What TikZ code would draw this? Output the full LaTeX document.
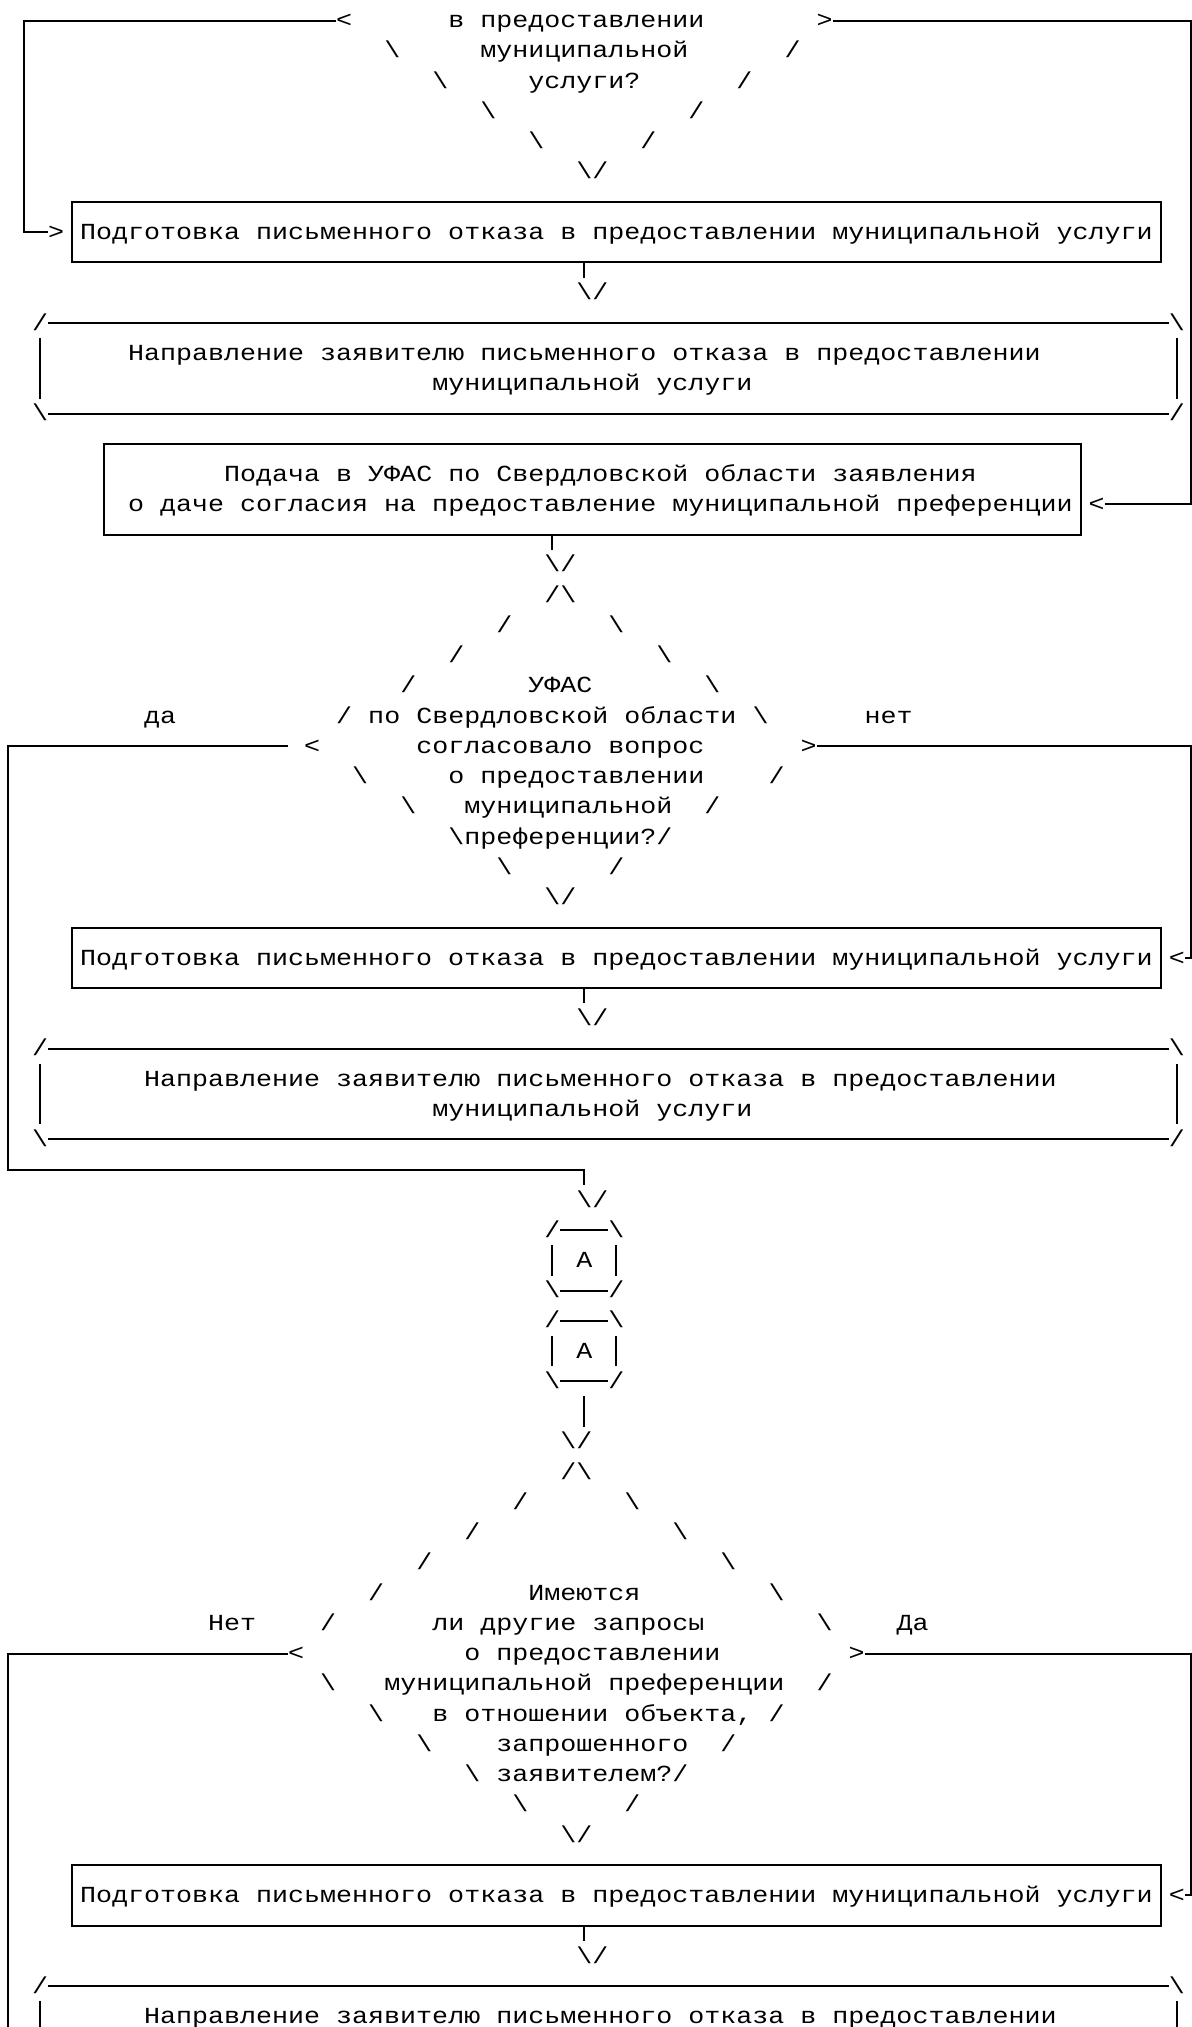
\documentclass[tikz,border=0pt]{standalone}
\usepackage{fontspec}
\newfontfamily\mono[FakeStretch=1.16]{Liberation Mono}
\newcommand\bs{\textbackslash}
\tikzset{
  txt/.style={anchor=base west, inner sep=0pt, outer sep=0pt, font=\mono\fontsize{11.5pt}{13pt}\selectfont},
  ln/.style={line width=1pt, line cap=butt, line join=miter},
}
% row, column, text
\newcommand\T[3]{\node[txt] (t#1x#2) at ({#2-0.5},{#1+0.235}) {#3};}
\begin{document}
\begin{tikzpicture}[x=8.005pt,y=-15.12pt,shift={(0.5,0.678)}]
\useasboundingbox (-0.5,-0.678) rectangle (73.95,66.35);
\fill[white] (-0.5,-0.678) rectangle (73.95,66.35);

% ---------- first decision (tail) ----------
\T{0}{21}{<}\T{0}{28}{в предоставлении}\T{0}{51}{>}
\T{1}{24}{\bs}\T{1}{30}{муниципальной}\T{1}{49}{/}
\T{2}{27}{\bs}\T{2}{33}{услуги?}\T{2}{46}{/}
\T{3}{30}{\bs}\T{3}{43}{/}
\T{4}{33}{\bs}\T{4}{40}{/}
\T{5}{36}{\bs/}
\coordinate (d1l) at (20.5,0);
\coordinate (d1r) at (51.5,0);
\draw[ln] (d1l) -- (1,0) -- (1,7) -- (2.5,7);
\draw[ln] (d1r) -- (73.88,0) -- (73.88,16) -- (68.5,16);

% box 1
\draw[ln] (4,6) rectangle (72,8);
\draw[ln] (36,8) -- (36,8.5);
\T{7}{3}{>}\T{7}{5}{Подготовка письменного отказа в предоставлении муниципальной услуги}
\T{9}{36}{\bs/}

% rounded box 1
\draw[ln] (2.5,10) -- (72.5,10);
\draw[ln] (2.5,13) -- (72.5,13);
\draw[ln] (2,10.5) -- (2,12.5);
\draw[ln] (73,10.5) -- (73,12.5);
\T{10}{2}{/}\T{10}{73}{\bs}
\T{11}{8}{Направление заявителю письменного отказа в предоставлении}
\T{12}{27}{муниципальной услуги}
\T{13}{2}{\bs}\T{13}{73}{/}

% box Подача
\draw[ln] (6,14) rectangle (67,17);
\draw[ln] (34,17) -- (34,17.5);
\T{15}{14}{Подача в УФАС по Свердловской области заявления}
\T{16}{8}{о даче согласия на предоставление муниципальной преференции}
\T{16}{68}{<}
\T{18}{34}{\bs/}

% ---------- decision 2 ----------
\T{19}{34}{/\bs}
\T{20}{31}{/}\T{20}{38}{\bs}
\T{21}{28}{/}\T{21}{41}{\bs}
\T{22}{25}{/}\T{22}{33}{УФАС}\T{22}{44}{\bs}
\T{23}{9}{да}\T{23}{21}{/}\T{23}{23}{по Свердловской области}\T{23}{47}{\bs}\T{23}{54}{нет}
\T{24}{19}{<}\T{24}{26}{согласовало вопрос}\T{24}{50}{>}
\T{25}{22}{\bs}\T{25}{28}{о предоставлении}\T{25}{48}{/}
\T{26}{25}{\bs}\T{26}{29}{муниципальной}\T{26}{44}{/}
\T{27}{28}{\bs преференции?/}
\T{28}{31}{\bs}\T{28}{38}{/}
\T{29}{34}{\bs/}
\draw[ln] (17.5,24) -- (0,24) -- (0,38) -- (36,38) -- (36,38.5);
\draw[ln] (50.5,24) -- (73.88,24) -- (73.88,31) -- (73.5,31);

% box 2
\draw[ln] (4,30) rectangle (72,32);
\draw[ln] (36,32) -- (36,32.5);
\T{31}{5}{Подготовка письменного отказа в предоставлении муниципальной услуги}
\T{31}{73}{<}
\T{33}{36}{\bs/}

% rounded box 2
\draw[ln] (2.5,34) -- (72.5,34);
\draw[ln] (2.5,37) -- (72.5,37);
\draw[ln] (2,34.5) -- (2,36.5);
\draw[ln] (73,34.5) -- (73,36.5);
\T{34}{2}{/}\T{34}{73}{\bs}
\T{35}{9}{Направление заявителю письменного отказа в предоставлении}
\T{36}{27}{муниципальной услуги}
\T{37}{2}{\bs}\T{37}{73}{/}

\T{39}{36}{\bs/}

% connectors A
\draw[ln] (34.5,40) -- (37.5,40);
\draw[ln] (34.5,42) -- (37.5,42);
\draw[ln] (34,40.5) -- (34,41.5);
\draw[ln] (38,40.5) -- (38,41.5);
\T{40}{34}{/}\T{40}{38}{\bs}
\T{41}{36}{А}
\T{42}{34}{\bs}\T{42}{38}{/}
\draw[ln] (34.5,43) -- (37.5,43);
\draw[ln] (34.5,45) -- (37.5,45);
\draw[ln] (34,43.5) -- (34,44.5);
\draw[ln] (38,43.5) -- (38,44.5);
\T{43}{34}{/}\T{43}{38}{\bs}
\T{44}{36}{А}
\T{45}{34}{\bs}\T{45}{38}{/}
\draw[ln] (36,45.5) -- (36,46.5);
\T{47}{35}{\bs/}

% ---------- decision 3 ----------
\T{48}{35}{/\bs}
\T{49}{32}{/}\T{49}{39}{\bs}
\T{50}{29}{/}\T{50}{42}{\bs}
\T{51}{26}{/}\T{51}{45}{\bs}
\T{52}{23}{/}\T{52}{33}{Имеются}\T{52}{48}{\bs}
\T{53}{13}{Нет}\T{53}{20}{/}\T{53}{27}{ли другие запросы}\T{53}{51}{\bs}\T{53}{56}{Да}
\T{54}{18}{<}\T{54}{29}{о предоставлении}\T{54}{53}{>}
\T{55}{20}{\bs}\T{55}{24}{муниципальной преференции}\T{55}{51}{/}
\T{56}{23}{\bs}\T{56}{27}{в отношении объекта,}\T{56}{48}{/}
\T{57}{26}{\bs}\T{57}{31}{запрошенного}\T{57}{45}{/}
\T{58}{29}{\bs}\T{58}{31}{заявителем?}\T{58}{42}{/}
\T{59}{32}{\bs}\T{59}{39}{/}
\T{60}{35}{\bs/}
\draw[ln] (17.5,54) -- (0,54) -- (0,66.4);
\draw[ln] (53.5,54) -- (73.88,54) -- (73.88,62) -- (73.5,62);

% box 3
\draw[ln] (4,61) rectangle (72,63);
\draw[ln] (36,63) -- (36,63.5);
\T{62}{5}{Подготовка письменного отказа в предоставлении муниципальной услуги}
\T{62}{73}{<}
\T{64}{36}{\bs/}

% rounded box 3
\draw[ln] (2.5,65) -- (72.5,65);
\draw[ln] (2,65.5) -- (2,66.4);
\draw[ln] (73,65.5) -- (73,66.4);
\T{65}{2}{/}\T{65}{73}{\bs}
\T{66}{9}{Направление заявителю письменного отказа в предоставлении}
\end{tikzpicture}
\end{document}
